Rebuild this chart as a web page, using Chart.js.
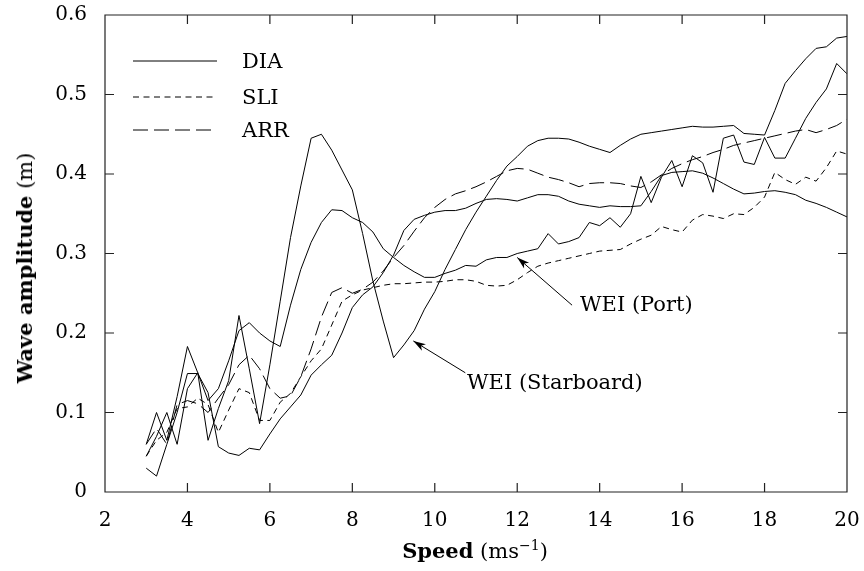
<!DOCTYPE html>
<html>
<head>
<meta charset="utf-8">
<script src="https://cdn.jsdelivr.net/npm/chart.js@4"></script>
<style>
  body { margin: 0; background: #fff; }
  #wrap { position: relative; width: 864px; height: 571px; font-family: "DejaVu Serif", serif; color: #000; }
  #c { position: absolute; left: 0; top: 0; }
  .txt { position: absolute; white-space: nowrap; font-size: 21px; line-height: 1; }
  #ytitle { left: 25px; top: 268px; transform: translate(-50%, -50%) rotate(-90deg); }
  #xtitle { left: 475px; top: 551px; transform: translate(-50%, -50%); }
  sup { font-size: 14px; vertical-align: 8px; line-height: 0; }
</style>
</head>
<body>
<div id="wrap">
  <canvas id="c" width="864" height="571"></canvas>
  <div class="txt" id="ytitle"><b>Wave amplitude</b> (m)</div>
  <div class="txt" id="xtitle"><b>Speed</b> (ms<sup>−1</sup>)</div>
  <svg style="position:absolute;left:0;top:0" width="864" height="571">
    <line x1="133" y1="61" x2="217" y2="61" stroke="#000" stroke-width="1"/>
    <line x1="133" y1="97" x2="217" y2="97" stroke="#000" stroke-width="1" stroke-dasharray="6,4.5"/>
    <line x1="133" y1="130" x2="217" y2="130" stroke="#000" stroke-width="1" stroke-dasharray="15,6"/>
  </svg>
  <div class="txt" style="left:242px;top:51px">DIA</div>
  <div class="txt" style="left:242px;top:87px">SLI</div>
  <div class="txt" style="left:242px;top:120px">ARR</div>
  <div class="txt" style="left:580px;top:294px">WEI (Port)</div>
  <div class="txt" style="left:467px;top:372px">WEI (Starboard)</div>
</div>
<script>
// wind speed (m/s)
var speeds = [3, 3.25, 3.5, 3.75, 4, 4.25, 4.5, 4.75, 5, 5.25, 5.5, 5.75, 6, 6.25, 6.5, 6.75,
  7, 7.25, 7.5, 7.75, 8, 8.25, 8.5, 8.75, 9, 9.25, 9.5, 9.75, 10, 10.25, 10.5, 10.75,
  11, 11.25, 11.5, 11.75, 12, 12.25, 12.5, 12.75, 13, 13.25, 13.5, 13.75, 14, 14.25, 14.5, 14.75,
  15, 15.25, 15.5, 15.75, 16, 16.25, 16.5, 16.75, 17, 17.25, 17.5, 17.75, 18, 18.25, 18.5, 18.75,
  19, 19.25, 19.5, 19.75, 20];

var dia = [0.03, 0.02, 0.06, 0.1, 0.149, 0.149, 0.125, 0.057, 0.049, 0.046, 0.055, 0.053, 0.073, 0.092, 0.107, 0.122,
  0.147, 0.16, 0.172, 0.2, 0.232, 0.248, 0.258, 0.276, 0.298, 0.329, 0.343, 0.348, 0.352, 0.354, 0.354, 0.357,
  0.363, 0.368, 0.369, 0.368, 0.366, 0.37, 0.374, 0.374, 0.372, 0.366, 0.362, 0.36, 0.358, 0.36, 0.359, 0.359,
  0.36, 0.378, 0.398, 0.402, 0.403, 0.404, 0.401, 0.395, 0.388, 0.381, 0.375, 0.376, 0.378, 0.379, 0.377, 0.374,
  0.367, 0.363, 0.358, 0.352, 0.346];

var sli = [0.045, 0.065, 0.075, 0.105, 0.107, 0.118, 0.11, 0.075, 0.103, 0.13, 0.125, 0.09, 0.09, 0.113, 0.124, 0.145,
  0.165, 0.18, 0.21, 0.24, 0.248, 0.254, 0.257, 0.26, 0.262, 0.262, 0.263, 0.264, 0.264, 0.265, 0.267, 0.267,
  0.265, 0.26, 0.259, 0.26, 0.267, 0.276, 0.284, 0.288, 0.291, 0.294, 0.297, 0.3, 0.303, 0.304, 0.305, 0.312,
  0.318, 0.323, 0.334, 0.33, 0.327, 0.342, 0.349, 0.347, 0.344, 0.35, 0.349, 0.358, 0.371, 0.402, 0.393, 0.387,
  0.396, 0.391, 0.408, 0.429, 0.425];

var arr = [0.06, 0.08, 0.06, 0.11, 0.115, 0.111, 0.1, 0.118, 0.135, 0.16, 0.172, 0.155, 0.13, 0.118, 0.121, 0.145,
  0.18, 0.22, 0.251, 0.257, 0.25, 0.255, 0.264, 0.278, 0.295, 0.31, 0.328, 0.345, 0.358, 0.368, 0.375, 0.379,
  0.384, 0.39, 0.397, 0.404, 0.407, 0.406, 0.401, 0.396, 0.393, 0.389, 0.384, 0.388, 0.389, 0.389, 0.388, 0.385,
  0.383, 0.39, 0.399, 0.407, 0.413, 0.418, 0.422, 0.427, 0.431, 0.436, 0.439, 0.442, 0.445, 0.448, 0.451, 0.454,
  0.456, 0.452, 0.456, 0.461, 0.469];

var weiPort = [0.045, 0.07, 0.1, 0.06, 0.13, 0.15, 0.115, 0.13, 0.165, 0.203, 0.213, 0.2, 0.19, 0.183, 0.235, 0.28,
  0.314, 0.339, 0.355, 0.354, 0.345, 0.339, 0.327, 0.306, 0.295, 0.285, 0.277, 0.27, 0.27, 0.275, 0.279, 0.285,
  0.284, 0.292, 0.295, 0.295, 0.3, 0.303, 0.306, 0.325, 0.312, 0.315, 0.32, 0.339, 0.335, 0.345, 0.333, 0.35,
  0.397, 0.364, 0.396, 0.417, 0.384, 0.423, 0.414, 0.377, 0.445, 0.449, 0.415, 0.412, 0.446, 0.42, 0.42, 0.445,
  0.47, 0.49, 0.507, 0.539, 0.526];

var weiStarboard = [0.06, 0.1, 0.065, 0.12, 0.183, 0.15, 0.065, 0.105, 0.14, 0.222, 0.155, 0.086, 0.16, 0.24, 0.32, 0.385,
  0.445, 0.45, 0.43, 0.405, 0.38, 0.325, 0.265, 0.215, 0.169, 0.185, 0.203, 0.23, 0.252, 0.28, 0.305, 0.33,
  0.352, 0.372, 0.392, 0.41, 0.422, 0.435, 0.442, 0.445, 0.445, 0.444, 0.44, 0.435, 0.431, 0.427, 0.436, 0.444,
  0.45, 0.452, 0.454, 0.456, 0.458, 0.46, 0.459, 0.459, 0.46, 0.461, 0.451, 0.45, 0.449, 0.48, 0.514, 0.53,
  0.545, 0.558, 0.56, 0.571, 0.573];

// arrow tips/tails in data units
var arrows = [
  { tip: [12.0, 0.295], tail: [13.33, 0.235] },
  { tip: [9.48, 0.19], tail: [10.74, 0.15] }
];

function pts(ys) {
  return speeds.map(function (s, i) { return { x: s, y: ys[i] }; });
}

function line(label, ys, dash) {
  return {
    label: label, data: pts(ys), borderColor: '#000', borderWidth: 1,
    borderDash: dash, pointRadius: 0, tension: 0, fill: false
  };
}

var frame = {
  id: 'frame',
  afterDraw: function (chart) {
    var ctx = chart.ctx, a = chart.chartArea, xs = chart.scales.x, ys = chart.scales.y;
    ctx.save();
    ctx.strokeStyle = '#222';
    ctx.lineWidth = 1.2;
    ctx.beginPath();
    ctx.rect(a.left, a.top, a.right - a.left, a.bottom - a.top);
    xs.ticks.forEach(function (t) {
      var p = xs.getPixelForValue(t.value);
      ctx.moveTo(p, a.bottom); ctx.lineTo(p, a.bottom - 9);
      ctx.moveTo(p, a.top); ctx.lineTo(p, a.top + 9);
    });
    ys.ticks.forEach(function (t) {
      var p = ys.getPixelForValue(t.value);
      ctx.moveTo(a.left, p); ctx.lineTo(a.left + 9, p);
      ctx.moveTo(a.right, p); ctx.lineTo(a.right - 9, p);
    });
    ctx.stroke();

    ctx.strokeStyle = '#000';
    ctx.fillStyle = '#000';
    ctx.lineWidth = 1;
    arrows.forEach(function (ar) {
      var x1 = xs.getPixelForValue(ar.tail[0]), y1 = ys.getPixelForValue(ar.tail[1]);
      var x2 = xs.getPixelForValue(ar.tip[0]), y2 = ys.getPixelForValue(ar.tip[1]);
      var ang = Math.atan2(y2 - y1, x2 - x1);
      ctx.beginPath();
      ctx.moveTo(x1, y1); ctx.lineTo(x2, y2);
      ctx.stroke();
      ctx.beginPath();
      ctx.moveTo(x2, y2);
      ctx.lineTo(x2 - 13 * Math.cos(ang - 0.3), y2 - 13 * Math.sin(ang - 0.3));
      ctx.lineTo(x2 - 9 * Math.cos(ang), y2 - 9 * Math.sin(ang));
      ctx.lineTo(x2 - 13 * Math.cos(ang + 0.3), y2 - 13 * Math.sin(ang + 0.3));
      ctx.closePath();
      ctx.fill();
    });
    ctx.restore();
  }
};

var tickFont = { family: '"DejaVu Serif", serif', size: 20 };

new Chart(document.getElementById('c'), {
  type: 'line',
  data: {
    datasets: [
      line('DIA', dia, []),
      line('SLI', sli, [6, 4.5]),
      line('ARR', arr, [15, 6]),
      line('WEI (Port)', weiPort, []),
      line('WEI (Starboard)', weiStarboard, [])
    ]
  },
  options: {
    responsive: false,
    animation: false,
    layout: { padding: { left: 0, right: 17, top: 15, bottom: 0 } },
    plugins: { legend: { display: false }, tooltip: { enabled: false } },
    scales: {
      x: {
        type: 'linear', min: 2, max: 20,
        grid: { display: false, drawTicks: false }, border: { display: false },
        ticks: { stepSize: 2, color: '#000', font: tickFont, padding: 17, maxRotation: 0 },
        afterFit: function (s) { s.height = 79; s.paddingLeft = 0; s.paddingRight = 0; }
      },
      y: {
        min: 0, max: 0.6,
        grid: { display: false, drawTicks: false }, border: { display: false },
        ticks: { stepSize: 0.1, color: '#000', font: tickFont, padding: 18 },
        afterFit: function (s) { s.width = 105; s.paddingTop = 0; s.paddingBottom = 0; }
      }
    }
  },
  plugins: [frame]
});
</script>
</body>
</html>
